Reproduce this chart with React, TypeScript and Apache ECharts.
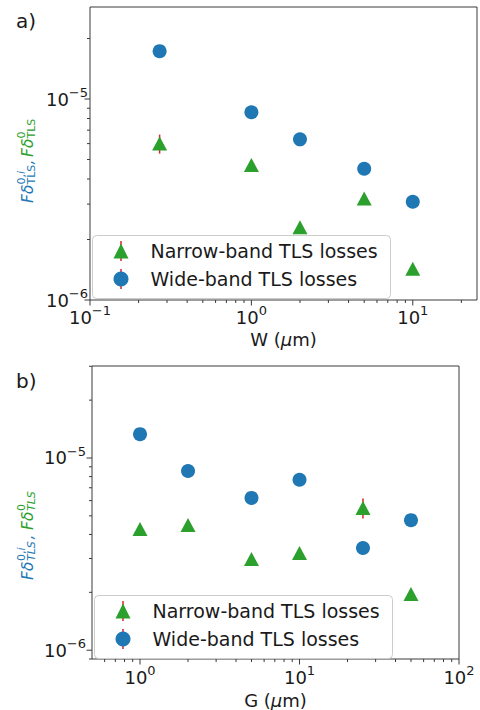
import React, { useEffect, useRef } from "react";
import * as echarts from "echarts";

// ---------- data ----------
const NARROW = "Narrow-band TLS losses";
const WIDE = "Wide-band TLS losses";

// panel a) : width W (µm)
const W_VALUES = [0.27, 1, 2, 5, 10];
const W_NARROW = [6.0e-6, 4.7e-6, 2.3e-6, 3.2e-6, 1.43e-6];
const W_NARROW_ERR = [0.65e-6, 0.2e-6, 0.08e-6, 0.15e-6, 0.05e-6];
const W_WIDE = [1.73e-5, 8.6e-6, 6.3e-6, 4.5e-6, 3.08e-6];
const W_WIDE_ERR = [0.5e-6, 0.3e-6, 0.2e-6, 0.15e-6, 0.1e-6];

// panel b) : gap G (µm)
const G_VALUES = [1, 2, 5, 10, 25, 50];
const G_NARROW = [4.27e-6, 4.48e-6, 2.98e-6, 3.2e-6, 5.5e-6, 1.96e-6];
const G_NARROW_ERR = [0.15e-6, 0.15e-6, 0.1e-6, 0.1e-6, 0.65e-6, 0.07e-6];
const G_WIDE = [1.33e-5, 8.56e-6, 6.2e-6, 7.7e-6, 3.4e-6, 4.75e-6];
const G_WIDE_ERR = [0.4e-6, 0.3e-6, 0.2e-6, 0.25e-6, 0.1e-6, 0.15e-6];

// axis ranges
const A_X = [0.1, 25];
const A_Y = [1e-6, 2.87e-5];
const B_X = [0.5, 100];
const B_Y = [9e-7, 3.01e-5];

// tick positions
const A_X_MAJOR = [0.1, 1, 10];
const A_X_MINOR = [0.2, 0.3, 0.4, 0.5, 0.6, 0.7, 0.8, 0.9, 2, 3, 4, 5, 6, 7, 8, 9, 20];
const A_Y_MAJOR = [1e-6, 1e-5];
const A_Y_MINOR = [2e-6, 3e-6, 4e-6, 5e-6, 6e-6, 7e-6, 8e-6, 9e-6, 2e-5];
const B_X_MAJOR = [1, 10, 100];
const B_X_MINOR = [0.6, 0.7, 0.8, 0.9, 2, 3, 4, 5, 6, 7, 8, 9, 20, 30, 40, 50, 60, 70, 80, 90];
const B_Y_MAJOR = [1e-6, 1e-5];
const B_Y_MINOR = [9e-7, 2e-6, 3e-6, 4e-6, 5e-6, 6e-6, 7e-6, 8e-6, 9e-6, 2e-5, 3e-5];

// ---------- styling ----------
const FONT = "DejaVu Sans";
const BLUE = "#1f77b4";
const GREEN = "#2ca02c";
const RED = "#d62728";
const INK = "#1a1a1a";
const AXIS = "#3a3a3a";

const supFormatter = (v: number) => {
  const l = Math.log10(v);
  const r = Math.round(l);
  if (Math.abs(l - r) > 1e-6) return "";
  const e = r < 0 ? "\u2212" + Math.abs(r) : String(r);
  return "{b|10}{s|" + e + "}";
};

const labelRich = {
  b: { fontSize: 18, fontFamily: FONT, color: INK, lineHeight: 26 },
  s: { fontSize: 13, fontFamily: FONT, color: INK, lineHeight: 11, verticalAlign: "top" },
};

const nameRich = {
  n: { fontSize: 18, fontFamily: FONT, color: INK },
  i: { fontSize: 18, fontFamily: FONT, color: INK, fontStyle: "italic" },
};

function xAxisOpt(gi: number, range: number[], name: string, margin: number, gap: number) {
  return {
    type: "log",
    logBase: 10,
    gridIndex: gi,
    min: range[0],
    max: range[1],
    splitLine: { show: false },
    axisLine: { show: false },
    axisTick: { show: false },
    minorTick: { show: false },
    axisLabel: { formatter: supFormatter, rich: labelRich, margin, hideOverlap: false },
    name,
    nameLocation: "middle",
    nameGap: gap,
    nameTextStyle: { fontSize: 18, fontFamily: FONT, color: INK, rich: nameRich },
  };
}

function yAxisOpt(gi: number, range: number[], margin: number) {
  return {
    type: "log",
    logBase: 10,
    gridIndex: gi,
    min: range[0],
    max: range[1],
    splitLine: { show: false },
    axisLine: { show: false },
    axisTick: { show: false },
    minorTick: { show: false },
    axisLabel: { formatter: supFormatter, rich: labelRich, margin, hideOverlap: false },
  };
}

function tickSeries(gi: number, dir: "x" | "y", anchor: number, major: number[], minor: number[]) {
  const data = [
    ...major.map((v) => (dir === "x" ? [v, anchor, 5.5] : [anchor, v, 5.5])),
    ...minor.map((v) => (dir === "x" ? [v, anchor, 3] : [anchor, v, 3])),
  ];
  return {
    type: "custom",
    xAxisIndex: gi,
    yAxisIndex: gi,
    silent: true,
    z: 3,
    clip: false,
    data,
    renderItem: (_p: any, api: any) => {
      const p = api.coord([api.value(0), api.value(1)]);
      const len = api.value(2);
      const shape =
        dir === "x"
          ? { x1: p[0], y1: p[1], x2: p[0], y2: p[1] + len }
          : { x1: p[0] - len, y1: p[1], x2: p[0], y2: p[1] };
      return { type: "line", shape, style: { stroke: AXIS, lineWidth: 1 } };
    },
  };
}

function errSeries(gi: number, xs: number[], ys: number[], errs: number[]) {
  return {
    type: "custom",
    xAxisIndex: gi,
    yAxisIndex: gi,
    silent: true,
    z: 1,
    data: xs.map((x, i) => [x, ys[i], errs[i]]),
    renderItem: (_p: any, api: any) => {
      const x = api.value(0);
      const y = api.value(1);
      const e = api.value(2);
      const p1 = api.coord([x, y - e]);
      const p2 = api.coord([x, y + e]);
      return {
        type: "line",
        shape: { x1: p1[0], y1: p1[1], x2: p2[0], y2: p2[1] },
        style: { stroke: RED, lineWidth: 1.5 },
      };
    },
  };
}

function scatter(gi: number, name: string, xs: number[], ys: number[], tri: boolean) {
  return {
    type: "scatter",
    name,
    xAxisIndex: gi,
    yAxisIndex: gi,
    symbol: tri ? "triangle" : "circle",
    symbolSize: tri ? [15, 14] : 14,
    itemStyle: { color: tri ? GREEN : BLUE, opacity: 1 },
    z: 2,
    data: xs.map((x, i) => [x, ys[i]]),
  };
}

function yLabel(x0: number, y0: number, italicTLS: boolean, pos: number[]) {
  const main = (text: string, fill: string, lx: number) => ({
    type: "text",
    x: lx,
    y: -5.4,
    style: { text, fill, fontSize: 15.5, fontFamily: FONT, fontStyle: "italic", align: "left", verticalAlign: "middle" },
  });
  const sub = (fill: string, lx: number) => ({
    type: "text",
    x: lx,
    y: -1.4,
    style: {
      text: "TLS",
      fill,
      fontSize: 11,
      fontFamily: FONT,
      fontStyle: italicTLS ? "italic" : "normal",
      align: "left",
      verticalAlign: "middle",
    },
  });
  const sup = (text: string, fill: string, lx: number) => ({
    type: "text",
    x: lx,
    y: -11.8,
    style: {
      text,
      fill,
      fontSize: 11,
      fontFamily: FONT,
      align: "left",
      verticalAlign: "middle",
      rich: {
        u: { fontSize: 11, fontFamily: FONT, fill },
        i: { fontSize: 11, fontFamily: FONT, fill, fontStyle: "italic" },
      },
    },
  });
  return {
    type: "group",
    x: x0,
    y: y0,
    rotation: Math.PI / 2,
    children: [
      main("F\u03b4", BLUE, pos[0]),
      sup("{u|0,}{i|i}", BLUE, pos[1]),
      sub(BLUE, pos[1]),
      main(",", BLUE, pos[2]),
      main("F\u03b4", GREEN, pos[3]),
      sup("0", GREEN, pos[4]),
      sub(GREEN, pos[4]),
    ],
  };
}

function legendBox(x: number, y: number) {
  return [
    {
      type: "rect",
      z: 1,
      shape: { x: x + 0.5, y: y + 0.5, width: 298, height: 63, r: 4 },
      style: { fill: "rgba(255,255,255,0.8)", stroke: "#cccccc", lineWidth: 1 },
    },
    {
      type: "line",
      z: 3,
      shape: { x1: x + 29, y1: y + 6, x2: x + 29, y2: y + 26 },
      style: { stroke: RED, lineWidth: 1.5 },
    },
    {
      type: "line",
      z: 3,
      shape: { x1: x + 29, y1: y + 34, x2: x + 29, y2: y + 54 },
      style: { stroke: RED, lineWidth: 1.5 },
    },
  ];
}

function legendOpt(x: number, y: number) {
  return {
    left: x + 21.5,
    top: y + 6,
    orient: "vertical",
    itemWidth: 15,
    itemHeight: 15,
    itemGap: 8,
    selectedMode: false,
    padding: 0,
    z: 4,
    data: [
      { name: NARROW, icon: "triangle", itemStyle: { color: GREEN } },
      { name: WIDE, icon: "circle", itemStyle: { color: BLUE } },
    ],
    textStyle: { fontSize: 19, fontFamily: FONT, color: INK, lineHeight: 20, padding: [0, 0, 0, 17] },
  };
}

export default function App() {
  const ref = useRef<HTMLDivElement>(null);
  useEffect(() => {
    if (!ref.current) return;
    const chart = echarts.init(ref.current, undefined, { renderer: "svg" });
    const option: any = {
      animation: false,
      backgroundColor: "#ffffff",
      textStyle: { fontFamily: FONT },
      grid: [
        { left: 90, top: 7, width: 387, height: 293, show: true, borderColor: AXIS, borderWidth: 1, backgroundColor: "transparent", containLabel: false, outerBoundsMode: "none" },
        { left: 92, top: 366, width: 367, height: 293, show: true, borderColor: AXIS, borderWidth: 1, backgroundColor: "transparent", containLabel: false, outerBoundsMode: "none" },
      ],
      xAxis: [
        xAxisOpt(0, A_X, "{n|W (}{i|\u03bc}{n|m)}", 4, 30),
        xAxisOpt(1, B_X, "{n|G (}{i|\u03bc}{n|m)}", 5, 32),
      ],
      yAxis: [yAxisOpt(0, A_Y, 2), yAxisOpt(1, B_Y, 6)],
      legend: [legendOpt(92, 235), legendOpt(94, 595)],
      series: [
        errSeries(0, W_VALUES, W_NARROW, W_NARROW_ERR),
        errSeries(0, W_VALUES, W_WIDE, W_WIDE_ERR),
        scatter(0, NARROW, W_VALUES, W_NARROW, true),
        scatter(0, WIDE, W_VALUES, W_WIDE, false),
        tickSeries(0, "x", A_Y[0], A_X_MAJOR, A_X_MINOR),
        tickSeries(0, "y", A_X[0], A_Y_MAJOR, A_Y_MINOR),
        errSeries(1, G_VALUES, G_NARROW, G_NARROW_ERR),
        errSeries(1, G_VALUES, G_WIDE, G_WIDE_ERR),
        scatter(1, NARROW, G_VALUES, G_NARROW, true),
        scatter(1, WIDE, G_VALUES, G_WIDE, false),
        tickSeries(1, "x", B_Y[0], B_X_MAJOR, B_X_MINOR),
        tickSeries(1, "y", B_X[0], B_Y_MAJOR, B_Y_MINOR),
      ],
      graphic: [
        ...legendBox(92, 235),
        ...legendBox(94, 595),
        {
          type: "text",
          x: 16,
          y: 21,
          style: { text: "a)", fontSize: 20, fontFamily: FONT, fill: INK, align: "left", verticalAlign: "middle" },
        },
        {
          type: "text",
          x: 16,
          y: 381,
          style: { text: "b)", fontSize: 20, fontFamily: FONT, fill: INK, align: "left", verticalAlign: "middle" },
        },
        yLabel(33, 203, false, [0, 18.5, 38.5, 46, 64.5]),
        yLabel(33, 580, true, [0, 19, 40.5, 50, 69]),
      ],
    };
    chart.setOption(option);
    return () => chart.dispose();
  }, []);
  return (
    <div
      ref={ref}
      style={{ position: "fixed", left: 0, top: 0, width: 480, height: 710, background: "#fff" }}
    />
  );
}
